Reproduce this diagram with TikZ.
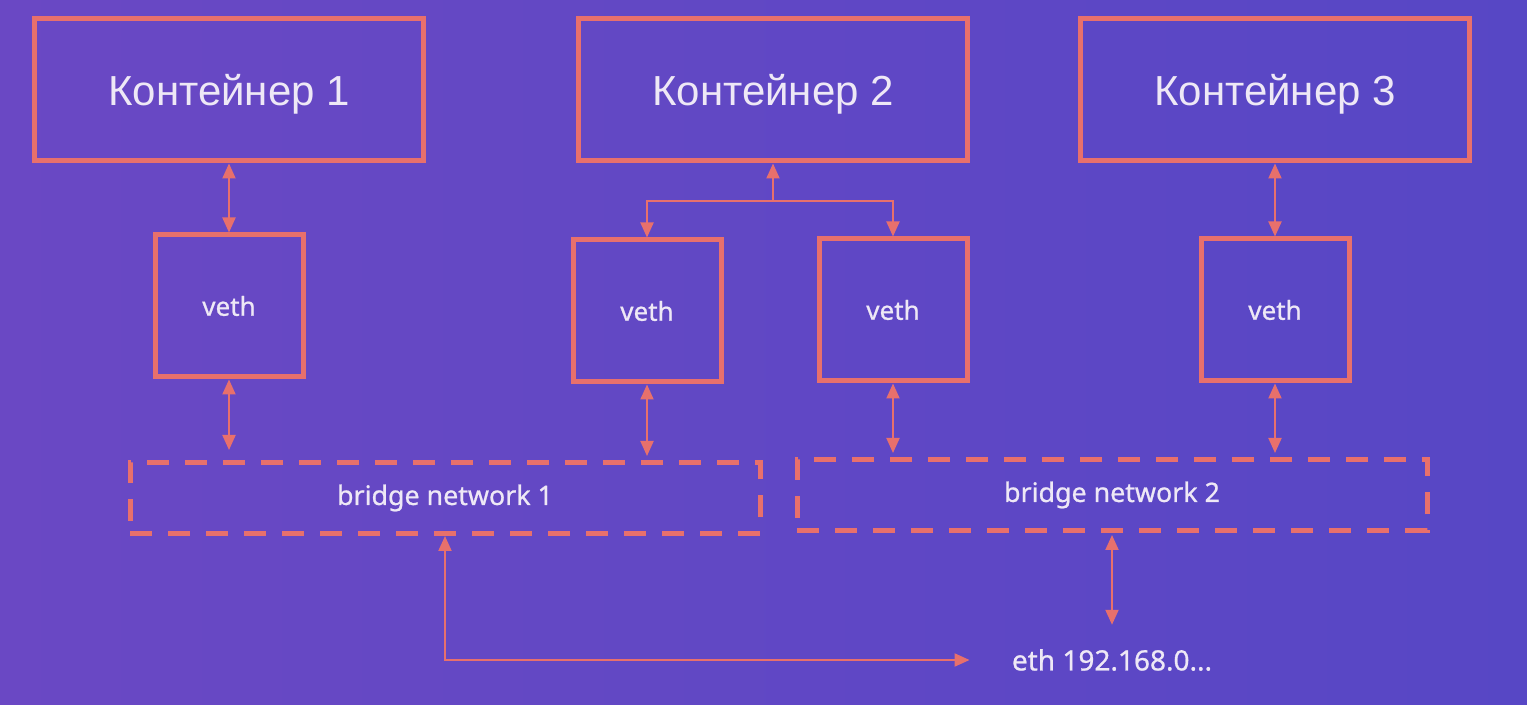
\documentclass[tikz,border=0pt]{standalone}
\usepackage{fontspec}
\setmainfont{Noto Sans}
\newfontfamily\contfont{Liberation Sans}
\newfontfamily\labelfont{Noto Sans}[FakeBold=0.8]
\usepackage{xcolor}
\usetikzlibrary{
    arrows.meta,
    calc
}
\definecolor{bgleft}{HTML}{6A48C4}
\definecolor{bgright}{HTML}{5747C5}
\definecolor{salmon}{HTML}{E8706C}
\definecolor{pale}{HTML}{EEE8F6}

\begin{document}
\begin{tikzpicture}[x=0.5pt, y=-0.5pt,
                        >={Triangle[length=7.5pt, width=6.5pt]},
                        cont/.style={draw=salmon, line width=2.5pt, inner sep=0pt,
                            minimum width=194.5pt, minimum height=71pt, text=pale,
                            text depth=0pt,
                            font=\contfont\fontsize{21}{25}\selectfont},
                        veth/.style={draw=salmon, line width=2.5pt, inner sep=0pt,
                            minimum width=74pt, minimum height=71pt, text=pale,
                            font=\labelfont\fontsize{13}{15}\selectfont},
                        bridge/.style={draw=salmon, line width=2.5pt, inner sep=0pt,
                            dash pattern=on 11pt off 8pt,
                            minimum width=315pt, minimum height=35.5pt, text=pale,
                            font=\labelfont\fontsize{13.4}{16}\selectfont},
                        link/.style={color=salmon, line width=1pt}]
                        \shade[left color=bgleft, right color=bgright] (0, 0) rectangle (1527, 705);
                        \useasboundingbox (0, 0) rectangle (1527, 705);

                        \node[cont] (c1) at (229, 90) {Контейнер 1};
                        \node[cont] (c2) at (773, 90) {Контейнер 2};
                        \node[cont] (c3) at (1275, 90) {Контейнер 3};

                        \node[veth] (v1) at (229, 306) {veth};
                        \node[veth] (v2a) at (647, 311) {veth};
                        \node[veth] (v2b) at (893, 310) {veth};
                        \node[veth] (v3) at (1275, 310) {veth};

                        \node[bridge] (b1) at (445, 498) {bridge network 1};
                        \node[bridge] (b2) at (1112, 495) {bridge network 2};

                        \node[text=pale, inner sep=0pt, font=\labelfont\fontsize{14}{17}\selectfont]
                            (eth) at (1112, 660) {eth 192.168.0...};
                        \coordinate (split) at (773, 201);

                        \draw[link]
                        (c1) edge [<->] (v1)
                        (c3) edge [<->] (v3)
                        (split) edge [->] (c2)
                        (v1) edge [<->, shorten >=5pt] (v1 |- b1.north)
                        (v2a) edge [<->, shorten >=2pt] (v2a |- b1.north)
                        (v2b) edge [<->, shorten >=2pt] (v2b |- b2.north)
                        (v3) edge [<->, shorten >=2pt] (v3 |- b2.north)
                        (eth.north |- b2.south) edge [<->, shorten <=1pt, shorten >=12pt] (eth.north);

                        \draw[link, ->] (split) -| (v2a);
                        \draw[link, ->] (split) -| (v2b);
                        \draw[link, <->, shorten >=21pt] (b1.south) |- (eth.west);
                    \end{tikzpicture}
\end{document}
